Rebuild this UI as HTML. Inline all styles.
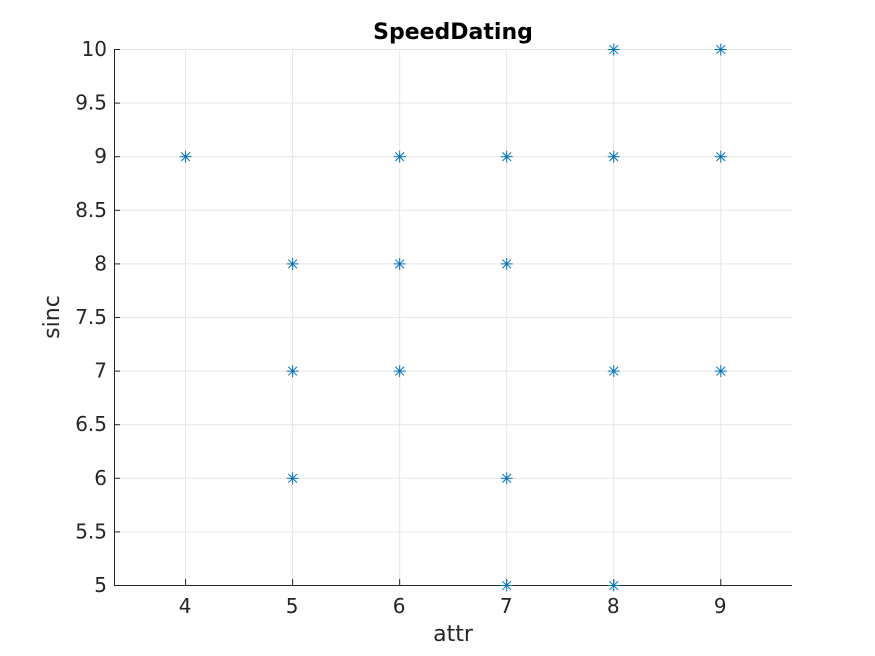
<!DOCTYPE html>
<html><head><meta charset="utf-8"><style>
body{margin:0;background:#fff;}
svg{display:block;font-family:"DejaVu Sans","Liberation Sans",sans-serif;}
</style></head><body>
<svg id="chart" width="875" height="656" viewBox="0 0 875 656" xmlns="http://www.w3.org/2000/svg">
<rect width="875" height="656" fill="#fff"/>
<g id="grid"></g>
<g id="axes"></g>
<g id="points"></g>
<text x="453" y="39" text-anchor="middle" font-size="22" font-weight="bold" fill="#000">SpeedDating</text>
<text x="453" y="641" text-anchor="middle" font-size="22" fill="#262626">attr</text>
<text transform="translate(59,317) rotate(-90)" text-anchor="middle" font-size="22" fill="#262626">sinc</text>
</svg>
<script>
const xVals=[4,5,5,5,6,6,6,7,7,7,7,8,8,8,8,9,9,9];
const yVals=[9,8,7,6,9,8,7,9,8,6,5,10,9,7,5,10,9,7];
const xTicks=[4,5,6,7,8,9];
const yTicks=[5,5.5,6,6.5,7,7.5,8,8.5,9,9.5,10];
const yTickLabels=["5","5.5","6","6.5","7","7.5","8","8.5","9","9.5","10"];
const NS="http://www.w3.org/2000/svg";
const L=114,R=792,T=49,B=585;
const xMin=3.336,xMax=9.67,yMin=5,yMax=10;
const sx=v=>L+(v-xMin)/(xMax-xMin)*(R-L);
const sy=v=>B-(v-yMin)/(yMax-yMin)*(B-T);
function mk(tag,attrs,parent){const e=document.createElementNS(NS,tag);for(const k in attrs)e.setAttribute(k,attrs[k]);parent.appendChild(e);return e;}
const grid=document.getElementById('grid'),axes=document.getElementById('axes'),pts=document.getElementById('points');
xTicks.forEach(t=>{
 const g=mk('line',{x1:sx(t)+0.5,x2:sx(t)+0.5,y1:T,y2:B,stroke:'#e6e6e6','stroke-width':1},grid);
 
 
 const tk=mk('line',{x1:sx(t)+0.5,x2:sx(t)+0.5,y1:B,y2:B-6,stroke:'#262626','stroke-width':1},axes);
 
 
 const lb=mk('text',{x:sx(t),y:B+28,'text-anchor':'middle','font-size':20,fill:'#262626'},axes);
 lb.textContent=t;
 
 
});
yTicks.forEach((t,i)=>{
 const g=mk('line',{x1:L,x2:R,y1:sy(t)+0.5,y2:sy(t)+0.5,stroke:'#e6e6e6','stroke-width':1},grid);
 
 
 const tk=mk('line',{x1:L,x2:L+6,y1:sy(t)+0.5,y2:sy(t)+0.5,stroke:'#262626','stroke-width':1},axes);
 
 
 const lb=mk('text',{x:L-7,y:sy(t)+7,'text-anchor':'end','font-size':20,fill:'#262626'},axes);
 lb.textContent=yTickLabels[i];
 
 
});
const xa=mk('line',{x1:L,x2:R,y1:B+0.5,y2:B+0.5,stroke:'#262626','stroke-width':1},axes);


const ya=mk('line',{x1:L+0.5,x2:L+0.5,y1:T,y2:B,stroke:'#262626','stroke-width':1},axes);


xVals.forEach((x,i)=>{
 const cx=sx(x)+0.5,cy=sy(yVals[i])+0.5,r=6;
 const g=mk('g',{stroke:'#0072bd','stroke-width':1},pts);
 
 
 mk('line',{x1:cx-r,x2:cx+r,y1:cy,y2:cy},g);
 mk('line',{x1:cx,x2:cx,y1:cy-r,y2:cy+r},g);
 mk('line',{x1:cx-r*0.72,x2:cx+r*0.72,y1:cy-r*0.72,y2:cy+r*0.72},g);
 mk('line',{x1:cx-r*0.72,x2:cx+r*0.72,y1:cy+r*0.72,y2:cy-r*0.72},g);
});
</script>
</body></html>
